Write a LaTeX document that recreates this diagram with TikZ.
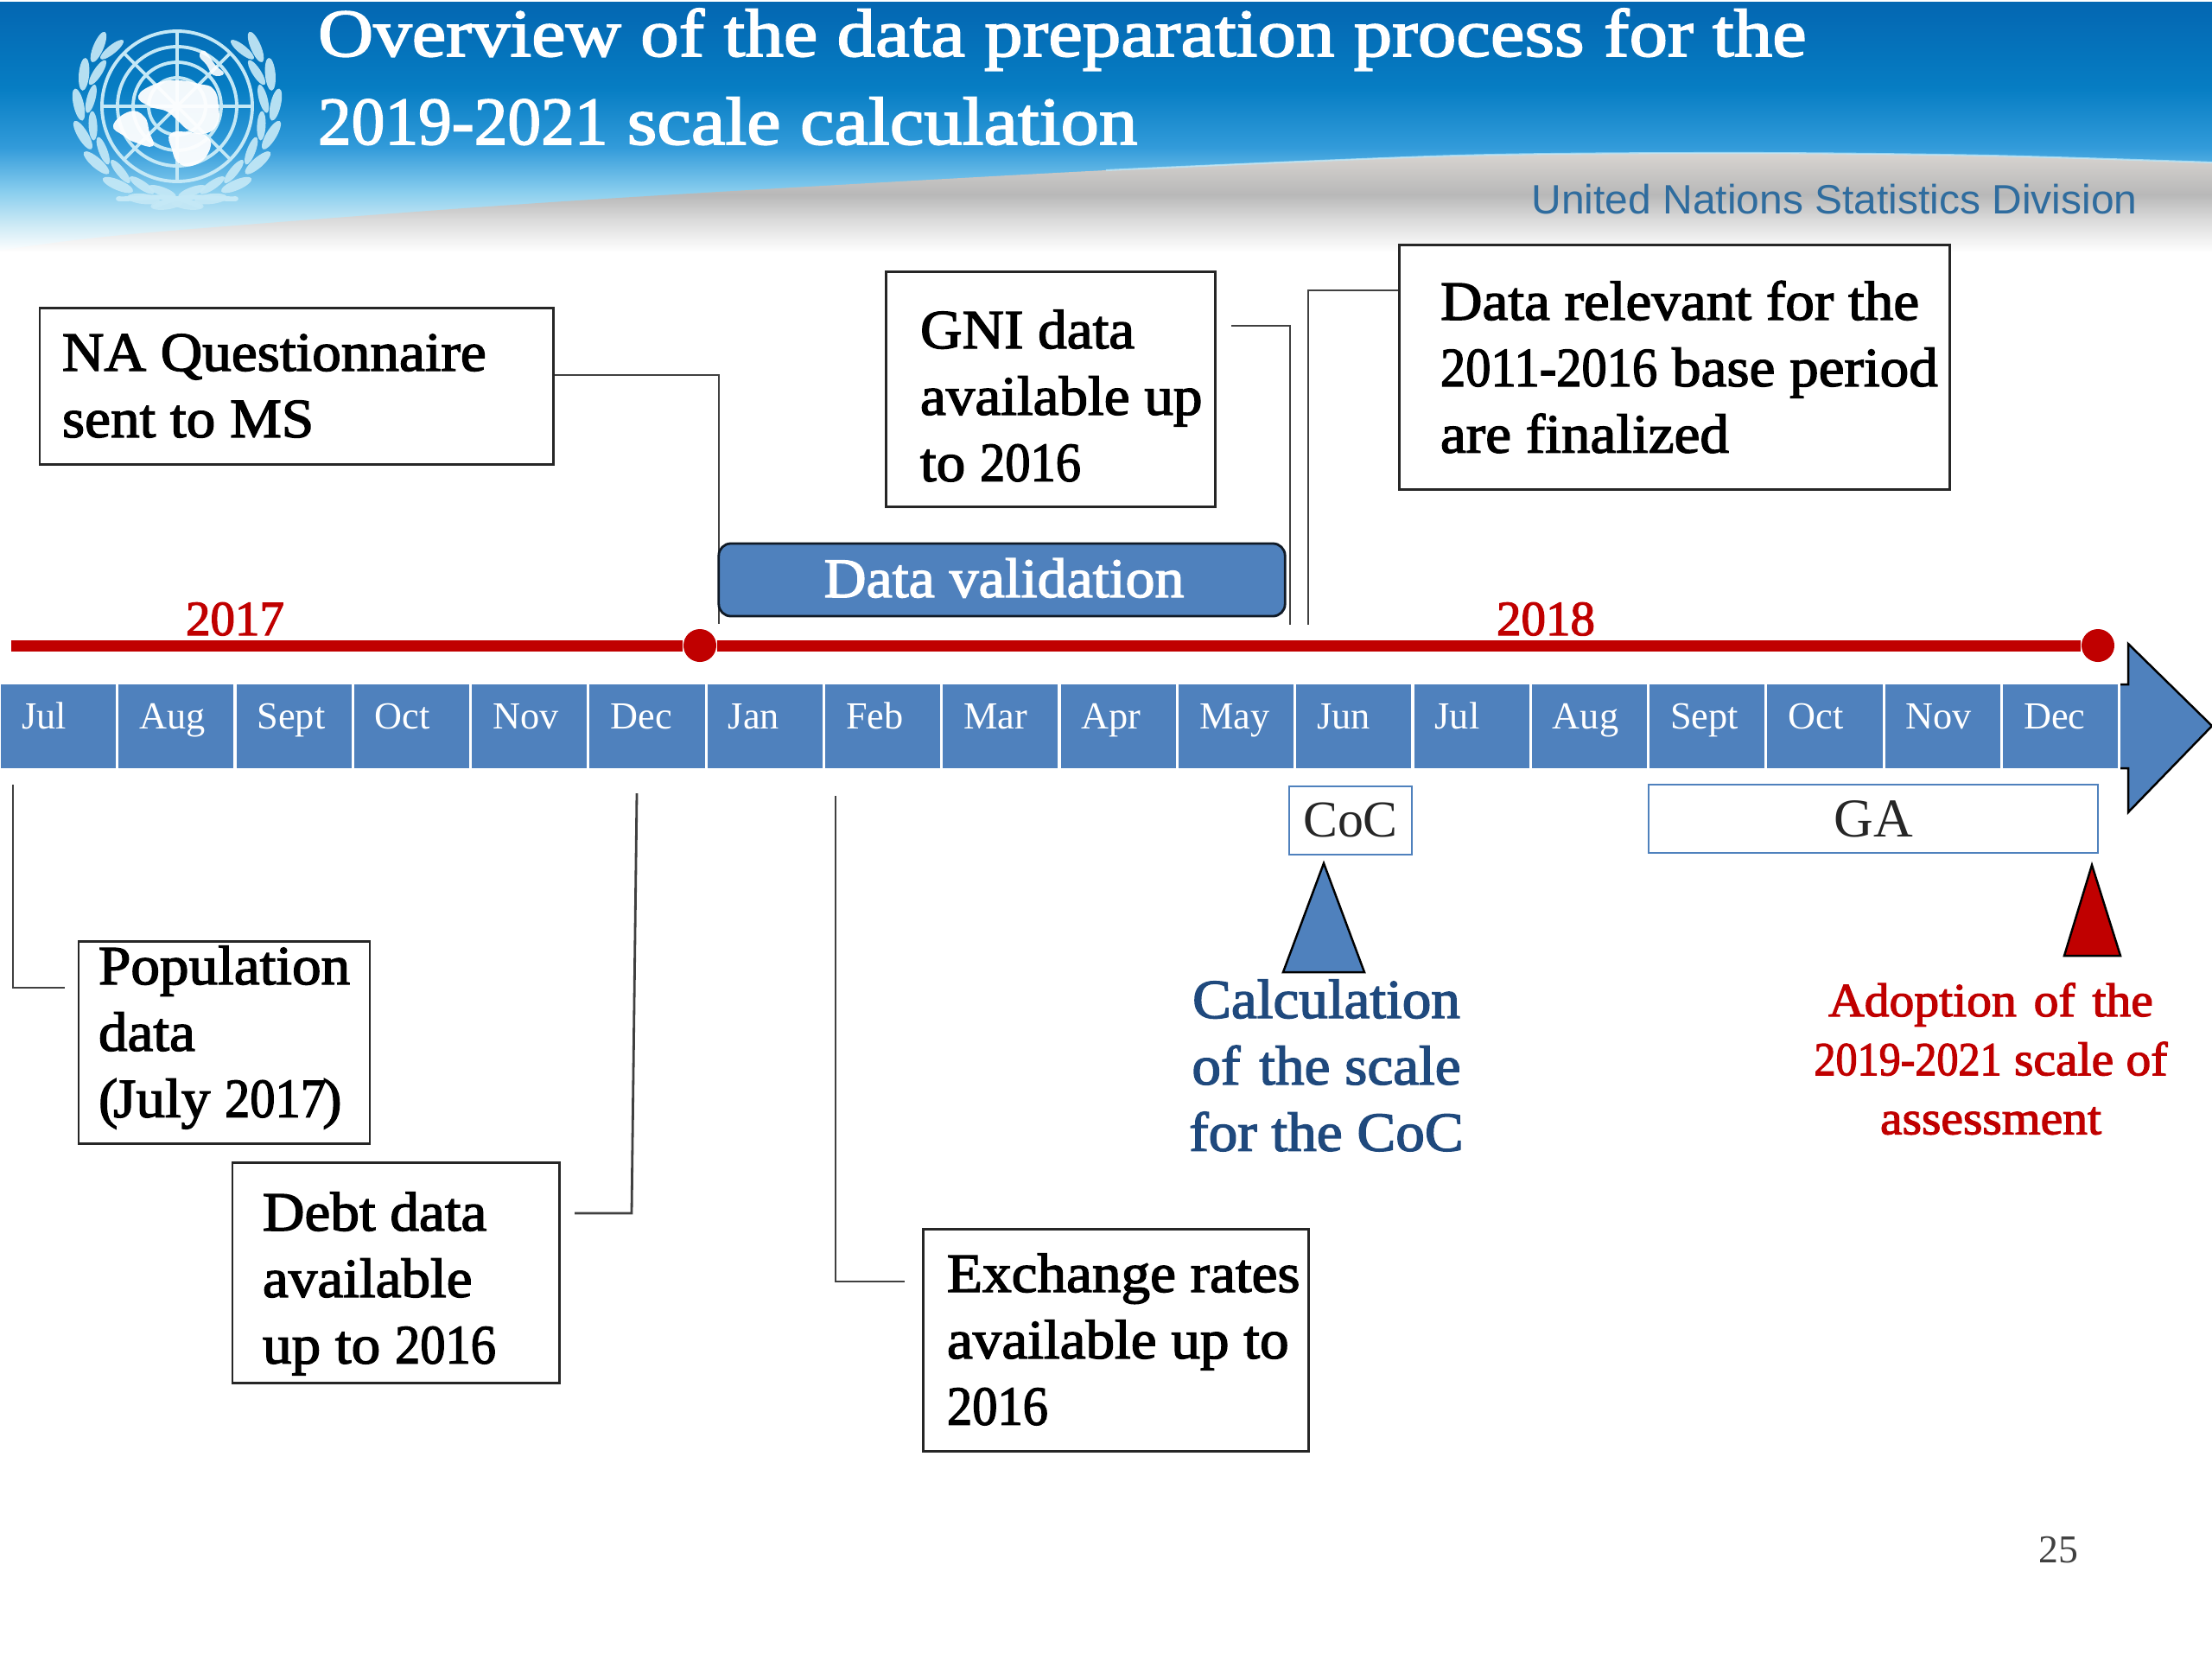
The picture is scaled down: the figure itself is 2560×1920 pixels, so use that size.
\documentclass[tikz,border=0pt]{standalone}
\usepackage{fontspec}
\setmainfont{Liberation Serif}
\newfontfamily\semibf[FakeBold=2.2,FakeStretch=1.05]{Liberation Serif}
\newfontfamily\titlef[FakeBold=2.2,FakeStretch=1.135]{Liberation Serif}
\newfontfamily\yearf[FakeBold=2.2]{Liberation Serif}
\newfontfamily\unsans{Liberation Sans}
\newcommand\dg[1]{\scalebox{.87}[1]{#1}}
\definecolor{cellblue}{HTML}{4F81BD}
\definecolor{redline}{HTML}{C00000}
\definecolor{navytext}{HTML}{1F497D}
\definecolor{connector}{HTML}{404040}
\definecolor{untext}{HTML}{2F6C9E}
\definecolor{ringc}{HTML}{C4E8F6}
\pgfdeclareverticalshading{hdrblue}{100bp}{color(0bp)=(white); color(25bp)=(white); color(30.5bp)=(rgb,255:red,205;green,234;blue,245); color(37.3bp)=(rgb,255:red,135;green,205;blue,238); color(45.9bp)=(rgb,255:red,50;green,155;blue,218); color(57.9bp)=(rgb,255:red,6;green,125;blue,195); color(74.5bp)=(rgb,255:red,4;green,103;blue,178); color(100bp)=(rgb,255:red,4;green,103;blue,178)}
\pgfdeclareverticalshading{hdrgrey}{100bp}{color(0bp)=(white); color(25bp)=(white); color(40bp)=(rgb,255:red,222;green,222;blue,222); color(54bp)=(rgb,255:red,184;green,184;blue,184); color(75bp)=(rgb,255:red,216;green,212;blue,208); color(100bp)=(rgb,255:red,216;green,212;blue,208)}
\tikzset{
  labelbox/.style={draw=black!85,line width=0.85pt,fill=white,inner sep=0pt,rectangle},
  textonly/.style={inner sep=0pt,outer sep=0pt},
  link/.style={draw=connector,line width=0.8pt},
  cell/.style={fill=cellblue,inner sep=0pt,rectangle,minimum width=1.33cm,minimum height=0.97cm},
  dot/.style={circle,fill=redline,inner sep=0pt,minimum size=0.38cm},
  leaf/.style={fill=ringc,fill opacity=.92},
}
\newcommand\lbox[8]{%
  \pgfmathsetlengthmacro\dx{(#6-(#2+#4)/2)*0.01cm}%
  \pgfmathsetlengthmacro\dy{((#3+#5)/2-#7)*0.01cm}%
  \node[labelbox,minimum width={(#4-#2)*0.01cm},minimum height={(#5-#3)*0.01cm}] (#1) at ({(#2+#4)/2},{(#3+#5)/2})
   {\raisebox{\dy}[0pt][0pt]{\makebox[0pt][l]{\hspace*{\dx}\parbox[t]{7cm}{\raggedright\fontsize{18.2}{21.85}\semibf\leavevmode #8}}}};}
% zero-size text block whose first baseline sits at the node centre
\newcommand\ltext[4]{\raisebox{0pt}[0pt][0pt]{\makebox[0pt][c]{\parbox[t]{7cm}{\centering\fontsize{#1}{#2}\semibf\leavevmode\color{#3}#4}}}}
\begin{document}
\begin{tikzpicture}[x=0.01cm,y=-0.01cm]
\useasboundingbox (0,0) rectangle (2560,1920);
\fill[white] (0,0) rectangle (2560,1920);
% header
\shade[shading=hdrblue] (0,2) rectangle (2560,292);
\shade[shading=hdrgrey] plot[smooth] coordinates {(0,290) (163,270) (653,233) (1280,197) (1688,180) (2015,177) (2300,180) (2560,188)} -- (2560,292) -- (0,292) -- cycle;
\draw[line width=0.6pt,color=cyan!25!white,opacity=.7] plot[smooth] coordinates {(1280,197) (1688,180) (2015,177) (2300,180) (2560,188)};
% emblem
\begin{scope}[shift={(205,123)},y=0.01cm]
  \foreach \r in {87,69,51,33} \draw[ringc,line width=1.1pt] (0,0) circle [radius=\r];
  \foreach \a in {0,45,90,135} \draw[ringc,line width=1.1pt] (\a:87) -- (\a+180:87);
  \fill[white,fill opacity=.95] plot[smooth cycle,tension=.8] coordinates {(-45,12) (-25,26) (0,30) (25,26) (42,20) (48,0) (46,-22) (30,-32) (14,-28) (2,-18) (-12,-6) (-32,0)};
  \fill[white,fill opacity=.95] plot[smooth cycle,tension=.8] coordinates {(-74,-22) (-55,-6) (-38,-12) (-32,-30) (-28,-46) (-48,-42) (-62,-34)};
  \fill[white,fill opacity=.95] plot[smooth cycle,tension=.8] coordinates {(-8,-32) (14,-30) (36,-36) (36,-54) (20,-68) (2,-66) (-6,-50)};
  \fill[white,fill opacity=.9] plot[smooth cycle,tension=.8] coordinates {(32,64) (44,48) (54,38) (42,36) (34,48) (26,58)};
  \foreach \s in {1,-1} {
  \begin{scope}[xscale=\s]
    \foreach \a in {143,161,179,197,215,233,250,264} {
      \fill[leaf,shift={(\a:114)},rotate=\a-90+14] (0,0) ellipse [x radius=19,y radius=6];
      \fill[leaf,shift={(\a-4:100)},rotate=\a-90-14] (0,0) ellipse [x radius=17,y radius=5];
    }
    \draw[ringc,line width=1.6pt,line cap=round] (-68,-107) .. controls (-35,-108) and (-10,-98) .. (26,-116);
  \end{scope}}
\end{scope}
% title and division
\node[textonly] (title) at (368,65) {\raisebox{0pt}[0pt][0pt]{\makebox[0pt][l]{\parbox[t]{22cm}{\fontsize{22.3}{29}\titlef\leavevmode\color{white}Overview of the data preparation process for the\\\dg{2019-2021} scale calculation}}}};
\node[textonly,anchor=base] (division) at (2123,247) {\scalebox{1.01}[1]{\fontsize{13.5}{16}\unsans\color{untext}United Nations Statistics Division}};
% timeline arrow
\fill[cellblue] (2454,792) -- (2463,792) -- (2463,745) -- (2560,840) -- (2463,940) -- (2463,889) -- (2454,889) -- cycle;
\draw[black,line width=0.7pt,line join=miter] (2454,792) -- (2463,792) -- (2463,745) -- (2560,840) -- (2463,940) -- (2463,889) -- (2454,889);
% months
\foreach \i/\t in {0/Jul,1/Aug,2/Sept,3/Oct,4/Nov,5/Dec,6/Jan,7/Feb,8/Mar,9/Apr,10/May,11/Jun,12/Jul,13/Aug,14/Sept,15/Oct,16/Nov,17/Dec} {
  \node[cell] (m\i) at ({136.3*\i+67.5},840.5) {};
  \node[textonly,anchor=base west] (ml\i) at ({136.3*\i+25},843) {\fontsize{12.6}{15}\selectfont\color{white}\t};
}
% red line
\coordinate (lineStart) at (13,747);
\node[dot] (dotA) at (810,747) {};
\node[dot] (dotB) at (2428,747) {};
\draw[redline,line width=3.7pt] (lineStart) -- (dotA) -- (dotB);
\node[textonly,anchor=base] (y17) at (272,735) {\fontsize{16.2}{18}\yearf\color{redline}2017};
\node[textonly,anchor=base] (y18) at (1789,735) {\fontsize{16.2}{18}\yearf\color{redline}2018};
% connectors' free ends
\coordinate (naA) at (640,434); \coordinate (naB) at (832,434); \coordinate (naC) at (832,722);
\coordinate (gnA) at (1425,377); \coordinate (gnB) at (1493,377); \coordinate (gnC) at (1493,723);
\coordinate (drA) at (1619,336); \coordinate (drB) at (1514,336); \coordinate (drC) at (1514,723);
\coordinate (poA) at (15,908); \coordinate (poB) at (15,1143); \coordinate (poC) at (75,1143);
\coordinate (deA) at (737,918); \coordinate (deB) at (731,1404); \coordinate (deC) at (665,1404);
\coordinate (exA) at (967,921); \coordinate (exB) at (967,1483); \coordinate (exC) at (1047,1483);
\draw[link] (naA) -- (naB) -- (naC);
\draw[link] (gnA) -- (gnB) -- (gnC);
\draw[link] (drA) -- (drB) -- (drC);
\draw[link] (poA) -- (poB) -- (poC);
\draw[link] (deA) -- (deB) -- (deC);
\draw[link] (exA) -- (exB) -- (exC);
% boxes
\lbox{na}{46}{356}{640}{537}{72}{429}{NA Questionnaire\\sent to MS}
\lbox{gni}{1025}{314}{1406}{586}{1065}{403}{GNI data\\available up\\to \dg{2016}}
\lbox{rel}{1619}{283}{2256}{566}{1667}{370}{Data relevant for the\\\dg{2011-2016} base period\\are finalized}
\lbox{pop}{91}{1089}{428}{1323}{114}{1139}{Population\\data\\(\kern-.08em July \dg{2017}\kern-.06em)}
\lbox{debt}{269}{1345}{647}{1600}{304}{1424}{Debt data\\available\\up to \dg{2016}}
\lbox{exch}{1068}{1422}{1514}{1679}{1096}{1495}{Exchange rates\\available up to\\\dg{2016}}
% data validation
\node[rectangle,rounded corners=0.14cm,fill=cellblue,draw=black!80!cellblue,line width=0.8pt,minimum width=6.55cm,minimum height=0.84cm,inner sep=0pt] (dv) at (1159.5,671) {};
\node[textonly,anchor=base] (dvt) at (1162,691) {\fontsize{18.4}{22}\semibf\color{white}Data validation};
% CoC and GA
\node[draw=cellblue,line width=0.7pt,fill=white,minimum width=1.42cm,minimum height=0.79cm,inner sep=0pt] (coc) at (1563,949.5) {};
\node[textonly,anchor=base] (coct) at (1563,968) {\fontsize{17}{20}\selectfont\color{black!85}CoC};
\node[draw=cellblue,line width=0.7pt,fill=white,minimum width=5.2cm,minimum height=0.79cm,inner sep=0pt] (ga) at (2168,947.5) {};
\node[textonly,anchor=base] (gat) at (2168,968) {\fontsize{18}{20}\selectfont\color{black!85}GA};
% triangles
\draw[fill=cellblue,draw=black,line width=0.7pt,line join=miter] (1532,999) -- (1579,1125) -- (1485,1125) -- cycle;
\draw[fill=redline,draw=black,line width=0.7pt,line join=miter] (2421,1001) -- (2454,1106) -- (2389,1106) -- cycle;
% captions
\node[textonly] (calc) at (1535,1178) {\ltext{18.2}{21.85}{navytext}{Calculation\\of \kern.08em the scale\\for the CoC}};
\node[textonly] (adopt) at (2304,1176) {\ltext{15.6}{19.4}{redline}{Adoption \kern.1em of \kern.1em the\\\dg{2019-2021} scale of\\assessment}};
\node[textonly,anchor=base] (page) at (2382,1808) {\fontsize{13}{15}\selectfont\color{black!75}25};
\end{tikzpicture}
\end{document}
